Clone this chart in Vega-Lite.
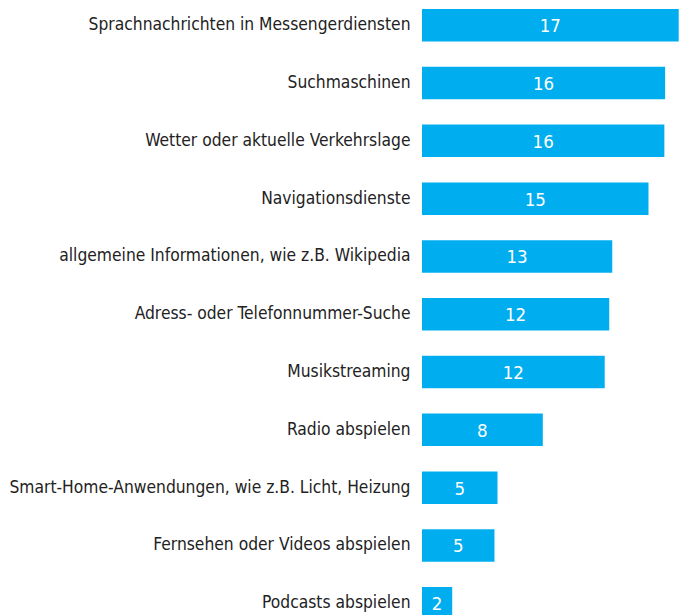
{
  "$schema": "https://vega.github.io/schema/vega-lite/v6.json",
  "autosize": {"type": "none"},
  "padding": {"left": 422, "top": 9, "right": 0, "bottom": -4.5},
  "width": 264.25,
  "height": 610.5,
  "background": "white",
  "config": {"view": {"stroke": null}},
  "data": {
    "values": [
      {"item": "Sprachnachrichten in Messengerdiensten", "value": 17.0},
      {"item": "Suchmaschinen", "value": 16.1},
      {"item": "Wetter oder aktuelle Verkehrslage", "value": 16.05},
      {"item": "Navigationsdienste", "value": 15.0},
      {"item": "allgemeine Informationen, wie z.B. Wikipedia", "value": 12.6},
      {"item": "Adress- oder Telefonnummer-Suche", "value": 12.4},
      {"item": "Musikstreaming", "value": 12.1},
      {"item": "Radio abspielen", "value": 8.0},
      {"item": "Smart-Home-Anwendungen, wie z.B. Licht, Heizung", "value": 5.0},
      {"item": "Fernsehen oder Videos abspielen", "value": 4.8},
      {"item": "Podcasts abspielen", "value": 2.0}
    ]
  },
  "encoding": {
    "y": {
      "field": "item",
      "type": "nominal",
      "sort": null,
      "scale": {"paddingInner": 0.438, "paddingOuter": 0},
      "axis": {
        "title": null,
        "ticks": false,
        "domain": false,
        "labelPadding": 12,
        "labelFont": "DejaVu Sans Condensed, Roboto Condensed, Roboto",
        "labelFontSize": 17.3,
        "labelColor": "#222222",
        "labelLimit": 0
      }
    }
  },
  "layer": [
    {
      "mark": {"type": "bar", "color": "#00AEEF"},
      "encoding": {
        "x": {
          "field": "value",
          "type": "quantitative",
          "scale": {"domain": [0, 17.5], "nice": false, "zero": true},
          "axis": null
        }
      }
    },
    {
      "transform": [{"calculate": "datum.value / 2", "as": "mid"}],
      "mark": {"type": "text", "color": "white", "font": "DejaVu Sans Condensed, Roboto Condensed, Roboto", "fontSize": 18.5, "align": "center", "baseline": "middle", "dy": 1},
      "encoding": {
        "x": {"field": "mid", "type": "quantitative"},
        "text": {"field": "value", "type": "quantitative", "format": ".0f"}
      }
    }
  ]
}
